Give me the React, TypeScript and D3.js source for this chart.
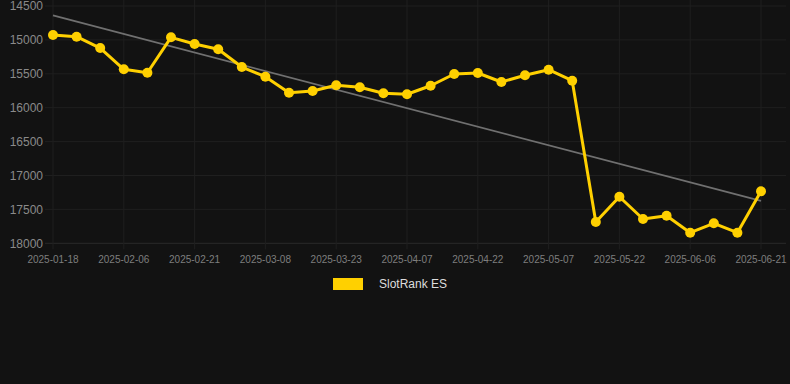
import React from "react";
import * as d3 from "d3";

const dates = [
  "2025-01-18", "2025-01-27", "2025-02-01", "2025-02-06", "2025-02-11", "2025-02-16",
  "2025-02-21", "2025-02-26", "2025-03-03", "2025-03-08", "2025-03-13", "2025-03-18",
  "2025-03-23", "2025-03-28", "2025-04-02", "2025-04-07", "2025-04-12", "2025-04-17",
  "2025-04-22", "2025-04-27", "2025-05-02", "2025-05-07", "2025-05-12", "2025-05-17",
  "2025-05-22", "2025-05-27", "2025-06-01", "2025-06-06", "2025-06-11", "2025-06-16",
  "2025-06-21",
];

const rankValues = [
  14928, 14953, 15120, 15434, 15484, 14962, 15060, 15139, 15400, 15543, 15779, 15754,
  15670, 15699, 15788, 15802, 15676, 15503, 15488, 15621, 15522, 15440, 15602, 17686,
  17313, 17642, 17593, 17844, 17705, 17844, 17233,
];

const yTicks = [14500, 15000, 15500, 16000, 16500, 17000, 17500, 18000];
const xTickLabels = [
  "2025-01-18", "2025-02-06", "2025-02-21", "2025-03-08", "2025-03-23", "2025-04-07",
  "2025-04-22", "2025-05-07", "2025-05-22", "2025-06-06", "2025-06-21",
];
const seriesName = "SlotRank ES";

const W = 790;
const H = 384;
const left = 53;
const right = 761;
const top = 6;
const bottom = 243.3;

export default function App() {
  const x = d3.scalePoint<string>().domain(dates).range([left, right]);
  const y = d3.scaleLinear().domain([14500, 18000]).range([top, bottom]);

  // linear regression trend
  const n = rankValues.length;
  const idx = d3.range(n);
  const mx = d3.mean(idx) as number;
  const my = d3.mean(rankValues) as number;
  const slope =
    d3.sum(idx, (i) => (i - mx) * (rankValues[i] - my)) /
    d3.sum(idx, (i) => (i - mx) * (i - mx));
  const intercept = my - slope * mx;
  const trend = [0, n - 1].map((i) => ({ d: dates[i], v: intercept + slope * i }));

  const line = d3
    .line<number>()
    .x((_, i) => x(dates[i]) as number)
    .y((v) => y(v));

  const trendLine = d3
    .line<{ d: string; v: number }>()
    .x((p) => x(p.d) as number)
    .y((p) => y(p.v));

  const gridColor = "#1f1f1f";

  return (
    <svg
      width={W}
      height={H}
      style={{ position: "absolute", left: 0, top: 0, display: "block" }}
      fontFamily="Arial, Liberation Sans, sans-serif"
    >
      <rect x={0} y={0} width={W} height={H} fill="#121212" />
      {/* horizontal grid */}
      {yTicks.map((t) => (
        <line
          key={"h" + t}
          x1={left - 8}
          x2={786}
          y1={y(t)}
          y2={y(t)}
          stroke={t === 18000 ? "#2a2a2a" : gridColor}
          strokeWidth={1}
        />
      ))}
      {/* vertical grid */}
      {xTickLabels.map((d) => (
        <line
          key={"v" + d}
          x1={x(d)}
          x2={x(d)}
          y1={0}
          y2={bottom + 6}
          stroke={gridColor}
          strokeWidth={1}
        />
      ))}
      {/* y labels */}
      {yTicks.map((t) => (
        <text
          key={"yl" + t}
          x={43}
          y={y(t)}
          dy="0.35em"
          textAnchor="end"
          fontSize={12}
          fill="#8a8a8a"
        >
          {t}
        </text>
      ))}
      {/* x labels */}
      {xTickLabels.map((d) => (
        <text
          key={"xl" + d}
          x={x(d)}
          y={259.5}
          dy="0.35em"
          textAnchor="middle"
          fontSize={10}
          fill="#7e7e7e"
        >
          {d}
        </text>
      ))}
      {/* trend */}
      <path d={trendLine(trend) || ""} fill="none" stroke="#707070" strokeWidth={1.8} />
      {/* series */}
      <path
        d={line(rankValues) || ""}
        fill="none"
        stroke="#FFD000"
        strokeWidth={3}
        strokeLinejoin="round"
      />
      {rankValues.map((v, i) => (
        <circle key={"p" + i} cx={x(dates[i])} cy={y(v)} r={5} fill="#FFD000" />
      ))}
      {/* legend */}
      <rect x={333} y={278} width={30} height={12} fill="#FFD000" />
      <text x={379} y={284} dy="0.35em" fontSize={12} fill="#dddddd">
        {seriesName}
      </text>
    </svg>
  );
}
